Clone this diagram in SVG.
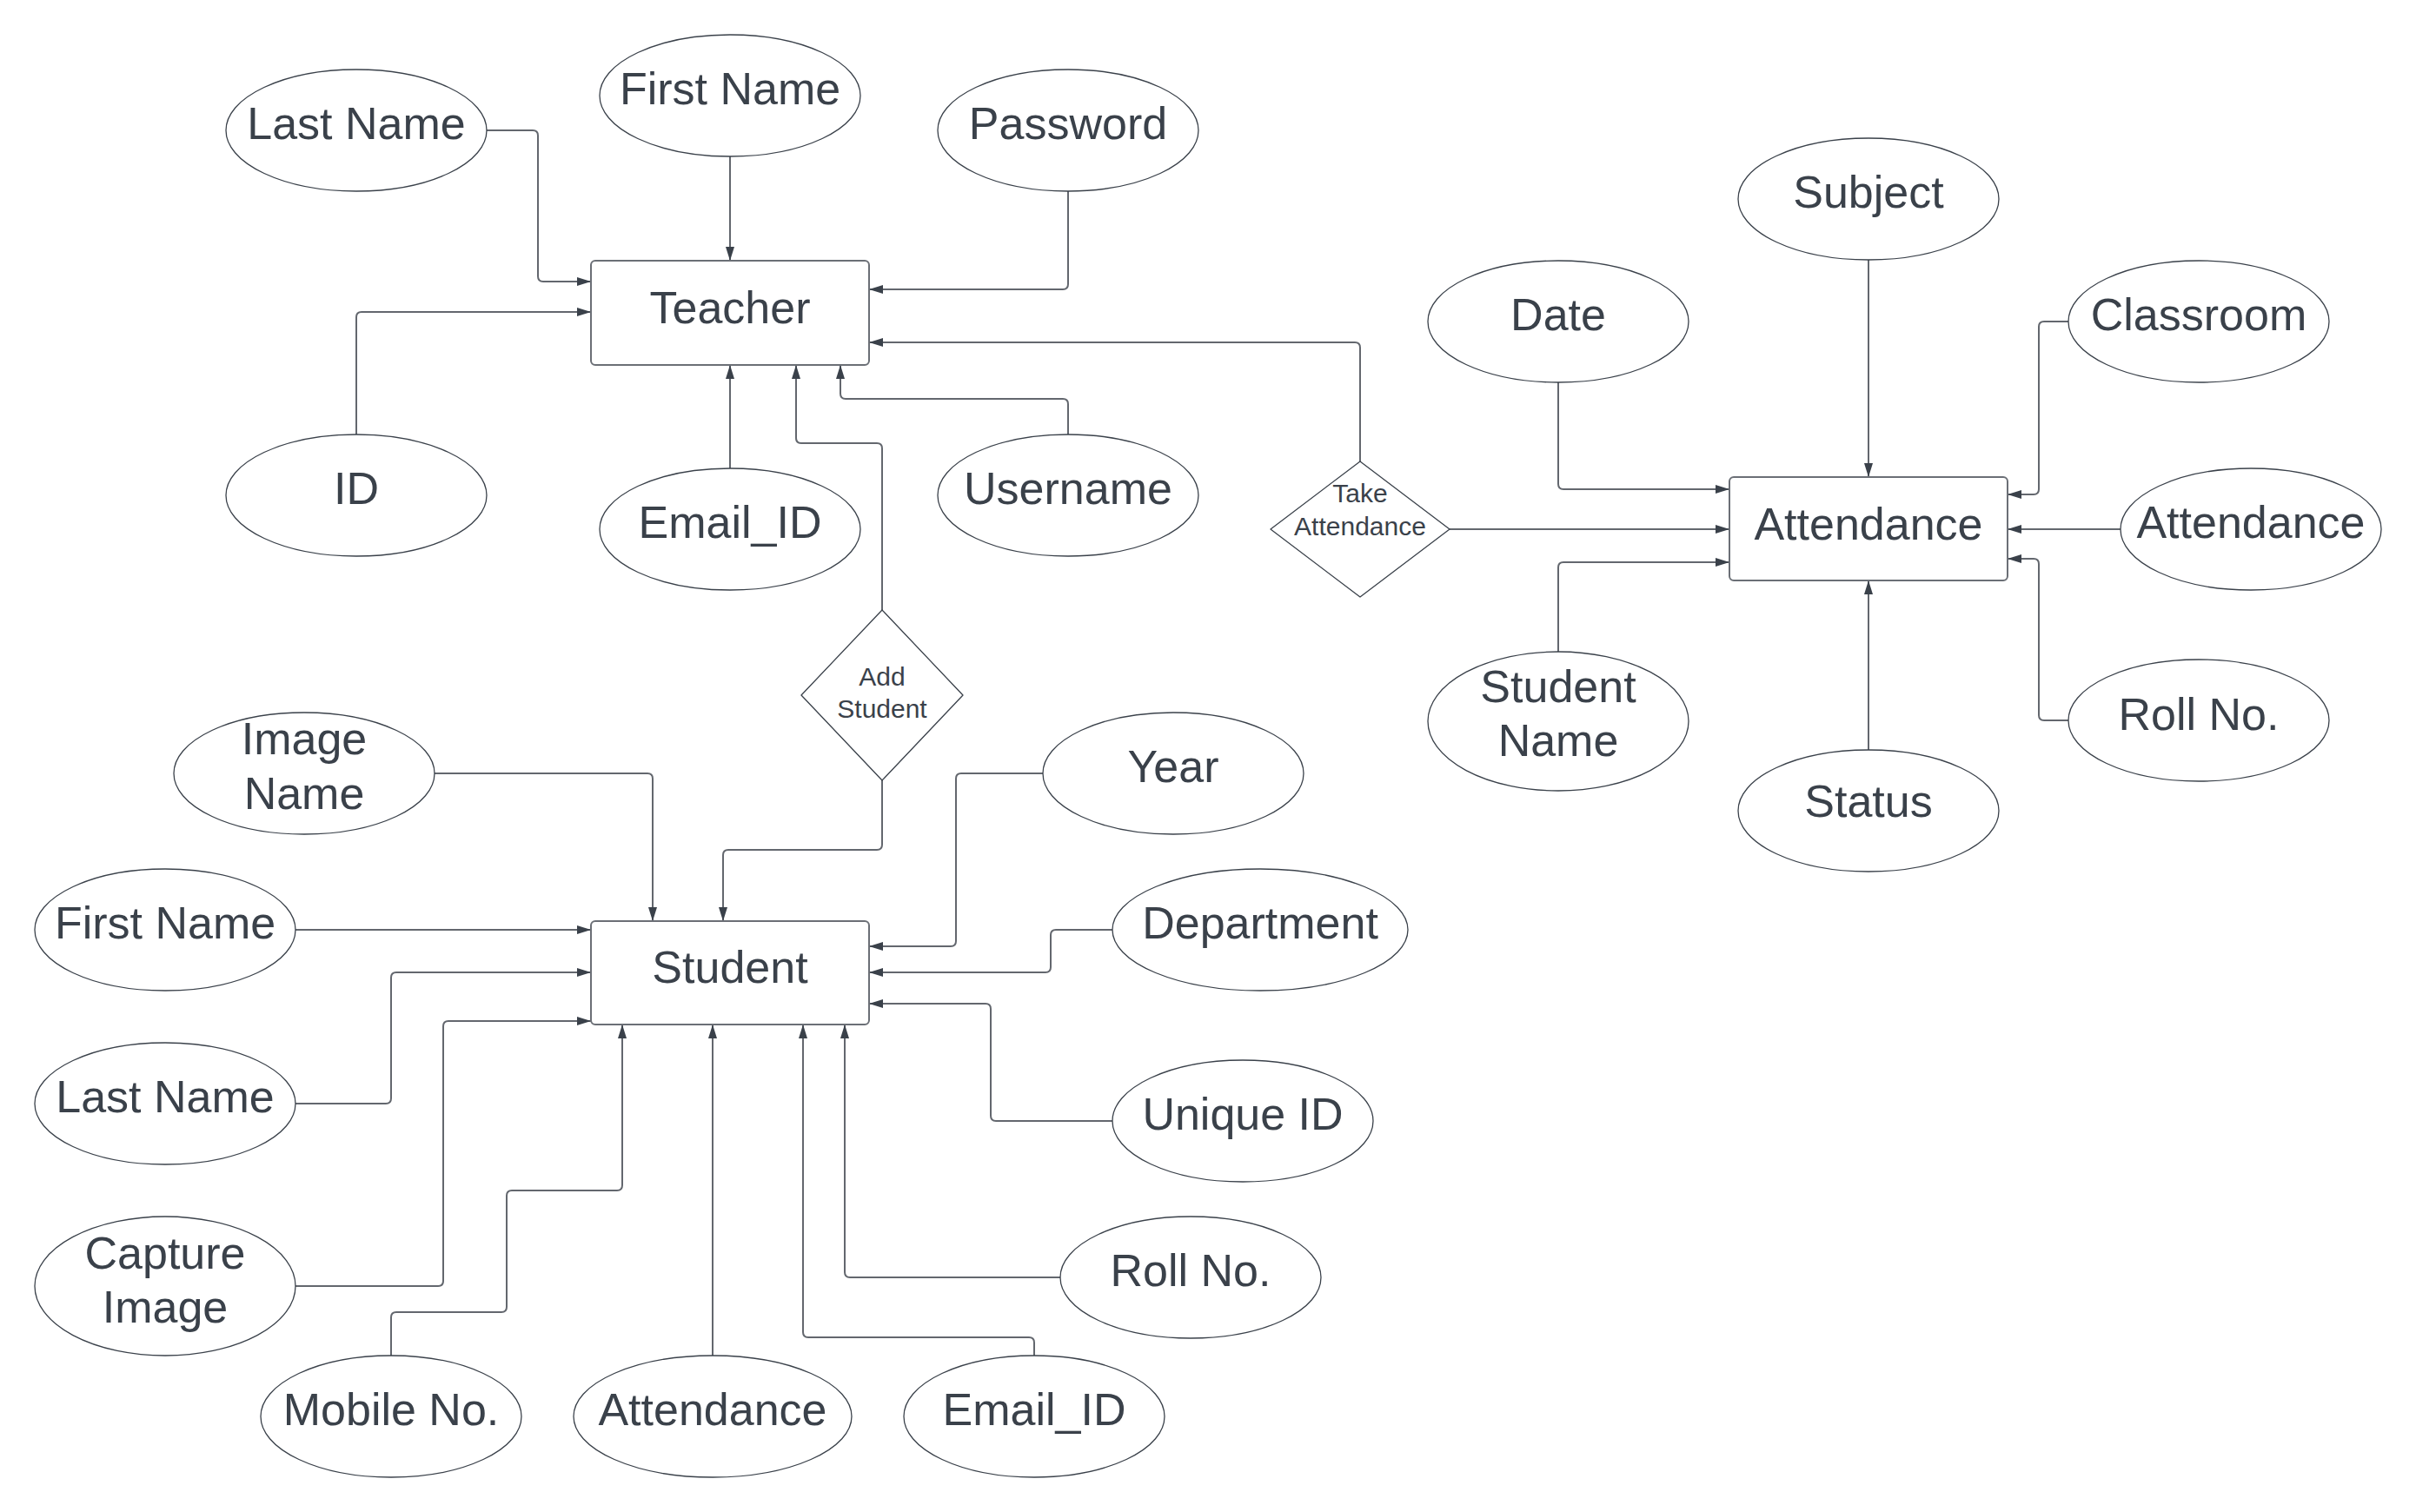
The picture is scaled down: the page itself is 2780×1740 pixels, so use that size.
<svg xmlns="http://www.w3.org/2000/svg" width="2780" height="1740" viewBox="0 0 2780 1740">
<defs>
<style>
.attr ellipse{fill:#fff;stroke:#3a414a;stroke-width:1.3}
.ent rect{fill:#fff;stroke:#6b6f76;stroke-width:2}
.rel path{fill:#fff;stroke:#3a414a;stroke-width:1.3}
text{font-family:"Liberation Sans",Arial,sans-serif;fill:#3a414a;text-anchor:middle}
.big{font-size:52px}
.small{font-size:30px}
#connectors path{fill:none;stroke:#63676e;stroke-width:2;marker-end:url(#arr)}
</style>
<marker id="arr" markerUnits="userSpaceOnUse" markerWidth="16" markerHeight="10" refX="16" refY="5" orient="auto">
<path d="M0,0 L16,5 L0,10 z" fill="#3a414a"/>
</marker>
</defs>
<rect width="2780" height="1740" fill="#fff"/>

<g id="connectors">
<path d="M 560 150 H 613 Q 619 150 619 156 V 318 Q 619 324 625 324 H 680"/>
<path d="M 840 180 V 300"/>
<path d="M 1229 220 V 327 Q 1229 333 1223 333 H 1000"/>
<path d="M 410 500 V 365 Q 410 359 416 359 H 680"/>
<path d="M 840 539 V 420"/>
<path d="M 1229 500 V 465 Q 1229 459 1223 459 H 973 Q 967 459 967 453 V 420"/>
<path d="M 1015 702 V 516 Q 1015 510 1009 510 H 922 Q 916 510 916 504 V 420"/>
<path d="M 1565 531 V 400 Q 1565 394 1559 394 H 1000"/>
<path d="M 1668 609 H 1990"/>
<path d="M 2150 299 V 549"/>
<path d="M 1793 440 V 557 Q 1793 563 1799 563 H 1990"/>
<path d="M 2380 370 H 2352 Q 2346 370 2346 376 V 563 Q 2346 569 2340 569 H 2310"/>
<path d="M 2440 609 H 2310"/>
<path d="M 2380 829 H 2352 Q 2346 829 2346 823 V 649 Q 2346 643 2340 643 H 2310"/>
<path d="M 1793 750 V 653 Q 1793 647 1799 647 H 1990"/>
<path d="M 2150 863 V 668"/>
<path d="M 500 890 H 745 Q 751 890 751 896 V 1060"/>
<path d="M 1015 898 V 972 Q 1015 978 1009 978 H 838 Q 832 978 832 984 V 1060"/>
<path d="M 340 1070 H 680"/>
<path d="M 340 1270 H 444 Q 450 1270 450 1264 V 1125 Q 450 1119 456 1119 H 680"/>
<path d="M 340 1480 H 504 Q 510 1480 510 1474 V 1181 Q 510 1175 516 1175 H 680"/>
<path d="M 450 1560 V 1516 Q 450 1510 456 1510 H 577 Q 583 1510 583 1504 V 1376 Q 583 1370 589 1370 H 710 Q 716 1370 716 1364 V 1179"/>
<path d="M 820 1560 V 1179"/>
<path d="M 1190 1560 V 1545 Q 1190 1539 1184 1539 H 930 Q 924 1539 924 1533 V 1179"/>
<path d="M 1220 1470 H 978 Q 972 1470 972 1464 V 1179"/>
<path d="M 1280 1290 H 1146 Q 1140 1290 1140 1284 V 1161 Q 1140 1155 1134 1155 H 1000"/>
<path d="M 1280 1070 H 1215 Q 1209 1070 1209 1076 V 1113 Q 1209 1119 1203 1119 H 1000"/>
<path d="M 1200 890 H 1106 Q 1100 890 1100 896 V 1083 Q 1100 1089 1094 1089 H 1000"/>
</g>

<g id="teacher" class="ent"><rect x="680" y="300" width="320" height="120" rx="5"/><text class="big" x="840" y="372">Teacher</text></g>
<g id="attendance" class="ent"><rect x="1990" y="549" width="320" height="119" rx="5"/><text class="big" x="2150" y="621">Attendance</text></g>
<g id="student" class="ent"><rect x="680" y="1060" width="320" height="119" rx="5"/><text class="big" x="840" y="1131">Student</text></g>

<g id="take-attendance" class="rel"><path d="M 1565 531 L 1668 609 L 1565 687 L 1462 609 Z" stroke-linejoin="round"/><text class="small" x="1565" y="578">Take</text><text class="small" x="1565" y="616">Attendance</text></g>
<g id="add-student" class="rel"><path d="M 1015 702 L 1108 800 L 1015 898 L 922 800 Z" stroke-linejoin="round"/><text class="small" x="1015" y="789">Add</text><text class="small" x="1015" y="826">Student</text></g>

<g id="t-lastname" class="attr"><ellipse cx="410" cy="150" rx="150" ry="70"/><text class="big" x="410" y="160">Last Name</text></g>
<g id="t-firstname" class="attr"><ellipse cx="840" cy="110" rx="150" ry="70"/><text class="big" x="840" y="120">First Name</text></g>
<g id="t-password" class="attr"><ellipse cx="1229" cy="150" rx="150" ry="70"/><text class="big" x="1229" y="160">Password</text></g>
<g id="t-id" class="attr"><ellipse cx="410" cy="570" rx="150" ry="70"/><text class="big" x="410" y="580">ID</text></g>
<g id="t-email" class="attr"><ellipse cx="840" cy="609" rx="150" ry="70"/><text class="big" x="840" y="619">Email_ID</text></g>
<g id="t-username" class="attr"><ellipse cx="1229" cy="570" rx="150" ry="70"/><text class="big" x="1229" y="580">Username</text></g>

<g id="a-subject" class="attr"><ellipse cx="2150" cy="229" rx="150" ry="70"/><text class="big" x="2150" y="239">Subject</text></g>
<g id="a-date" class="attr"><ellipse cx="1793" cy="370" rx="150" ry="70"/><text class="big" x="1793" y="380">Date</text></g>
<g id="a-classroom" class="attr"><ellipse cx="2530" cy="370" rx="150" ry="70"/><text class="big" x="2530" y="380">Classroom</text></g>
<g id="a-attendance" class="attr"><ellipse cx="2590" cy="609" rx="150" ry="70"/><text class="big" x="2590" y="619">Attendance</text></g>
<g id="a-studentname" class="attr"><ellipse cx="1793" cy="830" rx="150" ry="80"/><text class="big" x="1793" y="808">Student</text><text class="big" x="1793" y="870">Name</text></g>
<g id="a-rollno" class="attr"><ellipse cx="2530" cy="829" rx="150" ry="70"/><text class="big" x="2530" y="840">Roll No.</text></g>
<g id="a-status" class="attr"><ellipse cx="2150" cy="933" rx="150" ry="70"/><text class="big" x="2150" y="940">Status</text></g>

<g id="s-imagename" class="attr"><ellipse cx="350" cy="890" rx="150" ry="70"/><text class="big" x="350" y="868">Image</text><text class="big" x="350" y="931">Name</text></g>
<g id="s-firstname" class="attr"><ellipse cx="190" cy="1070" rx="150" ry="70"/><text class="big" x="190" y="1080">First Name</text></g>
<g id="s-lastname" class="attr"><ellipse cx="190" cy="1270" rx="150" ry="70"/><text class="big" x="190" y="1280">Last Name</text></g>
<g id="s-captureimage" class="attr"><ellipse cx="190" cy="1480" rx="150" ry="80"/><text class="big" x="190" y="1460">Capture</text><text class="big" x="190" y="1522">Image</text></g>
<g id="s-mobile" class="attr"><ellipse cx="450" cy="1630" rx="150" ry="70"/><text class="big" x="450" y="1640">Mobile No.</text></g>
<g id="s-attendance" class="attr"><ellipse cx="820" cy="1630" rx="160" ry="70"/><text class="big" x="820" y="1640">Attendance</text></g>
<g id="s-email" class="attr"><ellipse cx="1190" cy="1630" rx="150" ry="70"/><text class="big" x="1190" y="1640">Email_ID</text></g>
<g id="s-year" class="attr"><ellipse cx="1350" cy="890" rx="150" ry="70"/><text class="big" x="1350" y="900">Year</text></g>
<g id="s-department" class="attr"><ellipse cx="1450" cy="1070" rx="170" ry="70"/><text class="big" x="1450" y="1080">Department</text></g>
<g id="s-uniqueid" class="attr"><ellipse cx="1430" cy="1290" rx="150" ry="70"/><text class="big" x="1430" y="1300">Unique ID</text></g>
<g id="s-rollno" class="attr"><ellipse cx="1370" cy="1470" rx="150" ry="70"/><text class="big" x="1370" y="1480">Roll No.</text></g>
</svg>
